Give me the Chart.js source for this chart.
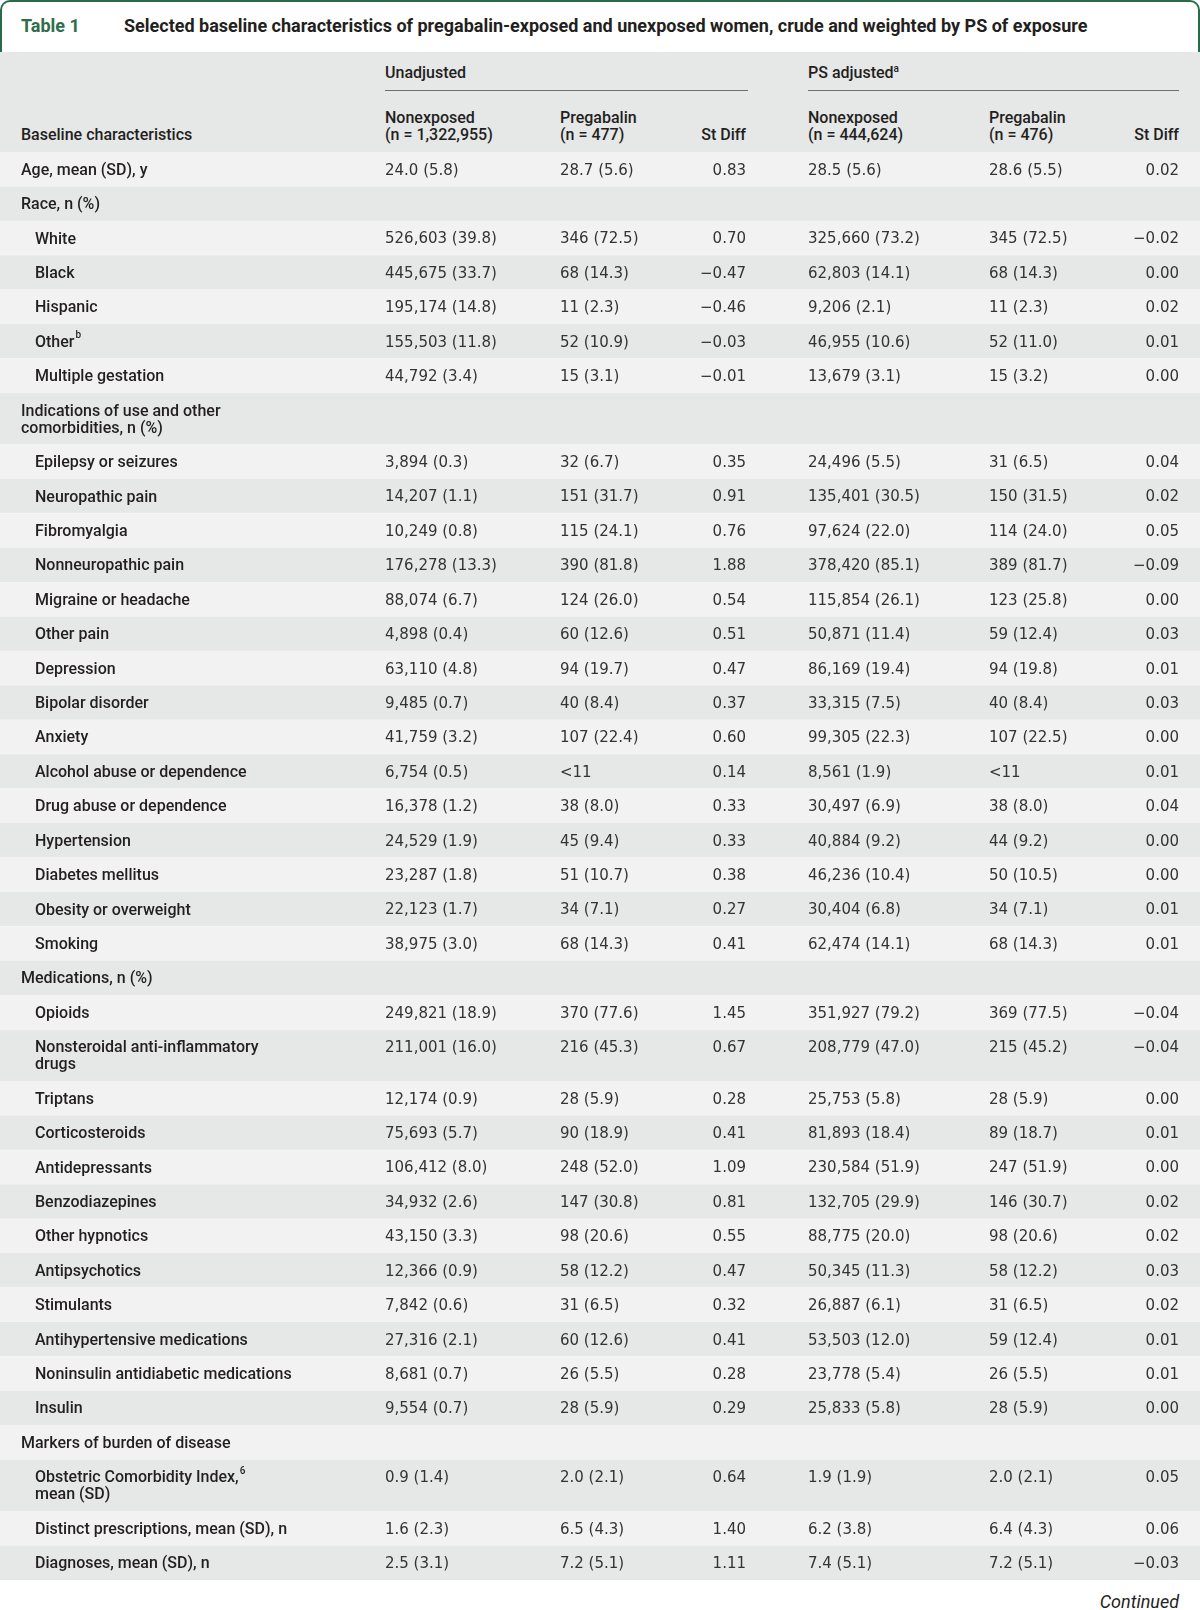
<!DOCTYPE html>
<html>
<head>
<meta charset="utf-8">
<script src="https://cdn.jsdelivr.net/npm/chart.js@4.4.1/dist/chart.umd.min.js"></script>
<style>
  html, body { margin: 0; padding: 0; background: #fff; }
  body { width: 1200px; height: 1610px; position: relative; overflow: hidden; font-family: Roboto, 'Open Sans', sans-serif; color: #231f20; }
  .titlebar { position: absolute; left: 0; top: 0; width: 1200px; height: 52px; box-sizing: border-box;
    border: 2.5px solid #2b6a48; border-bottom: none; border-radius: 10px 10px 0 0; }
  .titlebar span { position: absolute; top: 13px; font-weight: bold; font-size: 18px; line-height: 22px; }
  .titlebar .num { left: 19px; color: #2f6e4d; }
  .titlebar .txt { left: 122px; color: #231f20; }
  .head { position: absolute; left: 0; top: 52px; width: 1200px; height: 100px; background: #e6e7e7; }
  .head div { position: absolute; font-size: 16px; font-weight: 500; line-height: 17px; white-space: nowrap; }
  .head .rule { height: 0; border-top: 1.5px solid #6d6e70; }
  .head sup { font-size: 10px; vertical-align: 6px; line-height: 0; }
  #wrap { position: absolute; left: 0; top: 152px; width: 1200px; height: 1428px; }
  .cont { position: absolute; right: 21px; top: 1591px; font-style: italic; font-size: 18px; line-height: 22px; color: #231f20; }
</style>
</head>
<body>
<div class="titlebar">
  <span class="num">Table 1</span>
  <span class="txt">Selected baseline characteristics of pregabalin-exposed and unexposed women, crude and weighted by PS of exposure</span>
</div>
<div class="head">
  <div style="left:385px; top:12px">Unadjusted</div>
  <div class="rule" style="left:385px; top:38px; width:363px"></div>
  <div style="left:808px; top:12px">PS adjusted<sup>a</sup></div>
  <div class="rule" style="left:808px; top:38px; width:371px"></div>
  <div style="left:21px; top:74px">Baseline characteristics</div>
  <div style="left:385px; top:57px">Nonexposed<br>(n = 1,322,955)</div>
  <div style="left:560px; top:57px">Pregabalin<br>(n = 477)</div>
  <div style="right:454px; top:74px">St Diff</div>
  <div style="left:808px; top:57px">Nonexposed<br>(n = 444,624)</div>
  <div style="left:989px; top:57px">Pregabalin<br>(n = 476)</div>
  <div style="right:21px; top:74px">St Diff</div>
</div>
<div id="wrap"><canvas id="table" width="1200" height="1428"></canvas></div>
<div class="cont">Continued</div>

<script>
// ── Table data ────────────────────────────────────────────────
// '\n' splits a label over two lines, '^x' marks a superscript character
const rowLabels = [
  'Age, mean (SD), y', 'Race, n (%)', 'White', 'Black', 'Hispanic', 'Other^b', 'Multiple gestation',
  'Indications of use and other\ncomorbidities, n (%)',
  'Epilepsy or seizures', 'Neuropathic pain', 'Fibromyalgia', 'Nonneuropathic pain', 'Migraine or headache',
  'Other pain', 'Depression', 'Bipolar disorder', 'Anxiety', 'Alcohol abuse or dependence',
  'Drug abuse or dependence', 'Hypertension', 'Diabetes mellitus', 'Obesity or overweight', 'Smoking',
  'Medications, n (%)',
  'Opioids', 'Nonsteroidal anti-inflammatory\ndrugs', 'Triptans', 'Corticosteroids', 'Antidepressants',
  'Benzodiazepines', 'Other hypnotics', 'Antipsychotics', 'Stimulants', 'Antihypertensive medications',
  'Noninsulin antidiabetic medications', 'Insulin',
  'Markers of burden of disease',
  'Obstetric Comorbidity Index,^6\nmean (SD)', 'Distinct prescriptions, mean (SD), n', 'Diagnoses, mean (SD), n',
];
const rowLevel = [0,0,1,1,1,1,1, 0, 1,1,1,1,1,1,1,1,1,1,1,1,1,1,1, 0, 1,1,1,1,1,1,1,1,1,1,1,1, 0, 1,1,1];

const unadjNonexposed = [
  '24.0 (5.8)', '', '526,603 (39.8)', '445,675 (33.7)', '195,174 (14.8)', '155,503 (11.8)', '44,792 (3.4)',
  '',
  '3,894 (0.3)', '14,207 (1.1)', '10,249 (0.8)', '176,278 (13.3)', '88,074 (6.7)', '4,898 (0.4)', '63,110 (4.8)',
  '9,485 (0.7)', '41,759 (3.2)', '6,754 (0.5)', '16,378 (1.2)', '24,529 (1.9)', '23,287 (1.8)', '22,123 (1.7)',
  '38,975 (3.0)',
  '',
  '249,821 (18.9)', '211,001 (16.0)', '12,174 (0.9)', '75,693 (5.7)', '106,412 (8.0)', '34,932 (2.6)',
  '43,150 (3.3)', '12,366 (0.9)', '7,842 (0.6)', '27,316 (2.1)', '8,681 (0.7)', '9,554 (0.7)',
  '',
  '0.9 (1.4)', '1.6 (2.3)', '2.5 (3.1)',
];
const unadjPregabalin = [
  '28.7 (5.6)', '', '346 (72.5)', '68 (14.3)', '11 (2.3)', '52 (10.9)', '15 (3.1)',
  '',
  '32 (6.7)', '151 (31.7)', '115 (24.1)', '390 (81.8)', '124 (26.0)', '60 (12.6)', '94 (19.7)', '40 (8.4)',
  '107 (22.4)', '<11', '38 (8.0)', '45 (9.4)', '51 (10.7)', '34 (7.1)', '68 (14.3)',
  '',
  '370 (77.6)', '216 (45.3)', '28 (5.9)', '90 (18.9)', '248 (52.0)', '147 (30.8)', '98 (20.6)', '58 (12.2)',
  '31 (6.5)', '60 (12.6)', '26 (5.5)', '28 (5.9)',
  '',
  '2.0 (2.1)', '6.5 (4.3)', '7.2 (5.1)',
];
const unadjStDiff = [
  0.83, null, 0.70, -0.47, -0.46, -0.03, -0.01,
  null,
  0.35, 0.91, 0.76, 1.88, 0.54, 0.51, 0.47, 0.37, 0.60, 0.14, 0.33, 0.33, 0.38, 0.27, 0.41,
  null,
  1.45, 0.67, 0.28, 0.41, 1.09, 0.81, 0.55, 0.47, 0.32, 0.41, 0.28, 0.29,
  null,
  0.64, 1.40, 1.11,
];
const psNonexposed = [
  '28.5 (5.6)', '', '325,660 (73.2)', '62,803 (14.1)', '9,206 (2.1)', '46,955 (10.6)', '13,679 (3.1)',
  '',
  '24,496 (5.5)', '135,401 (30.5)', '97,624 (22.0)', '378,420 (85.1)', '115,854 (26.1)', '50,871 (11.4)',
  '86,169 (19.4)', '33,315 (7.5)', '99,305 (22.3)', '8,561 (1.9)', '30,497 (6.9)', '40,884 (9.2)',
  '46,236 (10.4)', '30,404 (6.8)', '62,474 (14.1)',
  '',
  '351,927 (79.2)', '208,779 (47.0)', '25,753 (5.8)', '81,893 (18.4)', '230,584 (51.9)', '132,705 (29.9)',
  '88,775 (20.0)', '50,345 (11.3)', '26,887 (6.1)', '53,503 (12.0)', '23,778 (5.4)', '25,833 (5.8)',
  '',
  '1.9 (1.9)', '6.2 (3.8)', '7.4 (5.1)',
];
const psPregabalin = [
  '28.6 (5.5)', '', '345 (72.5)', '68 (14.3)', '11 (2.3)', '52 (11.0)', '15 (3.2)',
  '',
  '31 (6.5)', '150 (31.5)', '114 (24.0)', '389 (81.7)', '123 (25.8)', '59 (12.4)', '94 (19.8)', '40 (8.4)',
  '107 (22.5)', '<11', '38 (8.0)', '44 (9.2)', '50 (10.5)', '34 (7.1)', '68 (14.3)',
  '',
  '369 (77.5)', '215 (45.2)', '28 (5.9)', '89 (18.7)', '247 (51.9)', '146 (30.7)', '98 (20.6)', '58 (12.2)',
  '31 (6.5)', '59 (12.4)', '26 (5.5)', '28 (5.9)',
  '',
  '2.0 (2.1)', '6.4 (4.3)', '7.2 (5.1)',
];
const psStDiff = [
  0.02, null, -0.02, 0.00, 0.02, 0.01, 0.00,
  null,
  0.04, 0.02, 0.05, -0.09, 0.00, 0.03, 0.01, 0.03, 0.00, 0.01, 0.04, 0.00, 0.00, 0.01, 0.01,
  null,
  -0.04, -0.04, 0.00, 0.01, 0.00, 0.02, 0.02, 0.03, 0.02, 0.01, 0.01, 0.00,
  null,
  0.05, 0.06, -0.03,
];

// ── Layout ────────────────────────────────────────────────────
const COL = { label: 21, indent: 35, c1: 385, c2: 560, sd1: 746, c4: 808, c5: 989, sd2: 1179 };
const ROW_LIGHT = '#f2f2f2';
const ROW_DARK  = '#e6e7e7';
const LABEL_FONT = "500 16px Roboto, 'Open Sans', sans-serif";
const SUP_FONT   = "500 10px Roboto, 'Open Sans', sans-serif";
const VALUE_FONT = "15px 'DejaVu Sans', sans-serif";
const TEXT_SHIFT = 1.5; // 'middle' baseline sits a touch high

// each label line is one unit, a row gets one extra unit of padding
const rowUnits = rowLabels.map((l) => l.split('\n').length + 1);
const rowStart = [];
rowUnits.reduce((acc, u, i) => { rowStart[i] = acc; return acc + u; }, 0);
const totalUnits = rowUnits.reduce((a, b) => a + b, 0);

const fmtDiff = (v) => (v == null ? '' : (v < 0 ? '\u2212' : '') + Math.abs(v).toFixed(2));

function drawLabelLine(ctx, text, x, y) {
  const parts = text.split(/\^(.)/);
  let cx = x;
  parts.forEach((p, k) => {
    if (k % 2 === 1) {
      ctx.font = SUP_FONT;
      ctx.fillText(p, cx + 1, y - 7);
      cx += ctx.measureText(p).width + 1;
    } else {
      ctx.font = LABEL_FONT;
      ctx.fillText(p, cx, y);
      cx += ctx.measureText(p).width;
    }
  });
}

const tablePlugin = {
  id: 'tableCells',
  beforeDatasetsDraw(chart) {
    const { ctx, scales: { x, y } } = chart;
    ctx.save();
    rowLabels.forEach((_, i) => {
      const top = y.getPixelForValue(rowStart[i]);
      const bottom = y.getPixelForValue(rowStart[i] + rowUnits[i]);
      ctx.fillStyle = i % 2 === 0 ? ROW_LIGHT : ROW_DARK;
      ctx.fillRect(x.left, top, x.right - x.left, bottom - top);
    });
    ctx.restore();
  },
  afterDatasetsDraw(chart) {
    const { ctx, scales: { x, y } } = chart;
    ctx.save();
    ctx.textBaseline = 'middle';
    rowLabels.forEach((label, i) => {
      const lx = x.getPixelForValue(rowLevel[i] ? COL.indent : COL.label);
      ctx.fillStyle = '#231f20';
      ctx.textAlign = 'left';
      label.split('\n').forEach((line, k) => {
        drawLabelLine(ctx, line, lx, y.getPixelForValue(rowStart[i] + 1 + k) + TEXT_SHIFT);
      });

      const vy = y.getPixelForValue(rowStart[i] + 1) + TEXT_SHIFT;
      ctx.font = VALUE_FONT;
      ctx.fillStyle = '#333333';
      ctx.textAlign = 'left';
      ctx.fillText(unadjNonexposed[i], x.getPixelForValue(COL.c1), vy);
      ctx.fillText(unadjPregabalin[i], x.getPixelForValue(COL.c2), vy);
      ctx.fillText(psNonexposed[i], x.getPixelForValue(COL.c4), vy);
      ctx.fillText(psPregabalin[i], x.getPixelForValue(COL.c5), vy);
      ctx.textAlign = 'right';
      ctx.fillText(fmtDiff(unadjStDiff[i]), x.getPixelForValue(COL.sd1), vy);
      ctx.fillText(fmtDiff(psStDiff[i]), x.getPixelForValue(COL.sd2), vy);
    });
    ctx.restore();
  },
};

new Chart(document.getElementById('table'), {
  type: 'scatter',
  data: {
    datasets: [{
      data: rowLabels.map((_, i) => ({ x: 0, y: rowStart[i] + 1 })),
      pointRadius: 0,
      pointHoverRadius: 0,
    }],
  },
  options: {
    responsive: false,
    animation: false,
    devicePixelRatio: 1,
    layout: { padding: 0 },
    events: [],
    plugins: { legend: { display: false }, tooltip: { enabled: false } },
    scales: {
      x: { type: 'linear', min: 0, max: 1200, display: false },
      y: { type: 'linear', min: 0, max: totalUnits, reverse: true, display: false },
    },
  },
  plugins: [tablePlugin],
});
</script>
</body>
</html>
